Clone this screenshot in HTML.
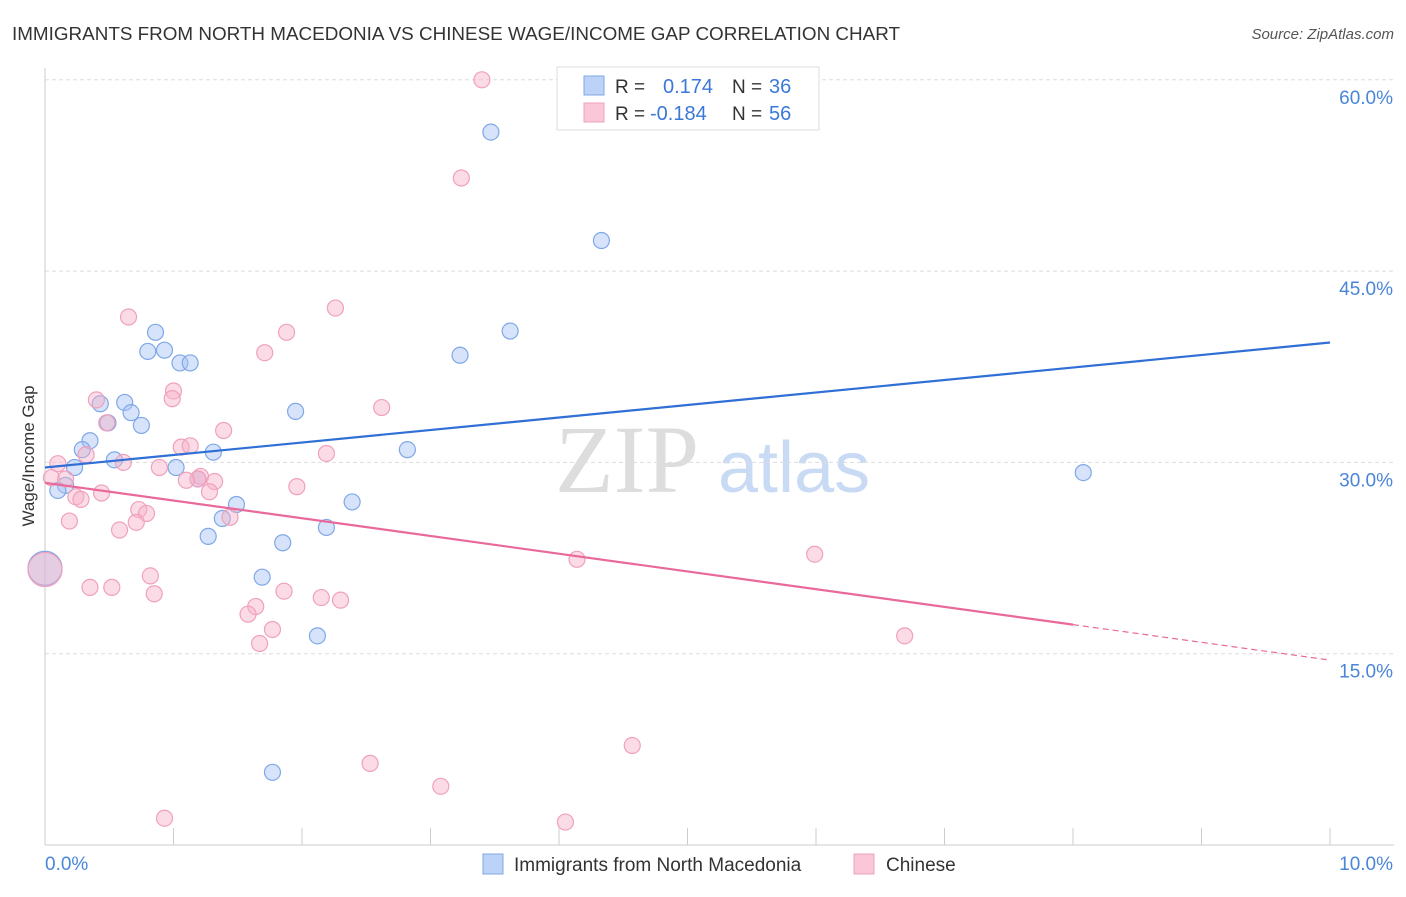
<!DOCTYPE html>
<html><head><meta charset="utf-8"><style>
body{margin:0;background:#fff;font-family:"Liberation Sans",sans-serif}
svg text{font-family:"Liberation Sans",sans-serif}
</style></head><body>
<svg id="chart" width="1406" height="892" xmlns="http://www.w3.org/2000/svg">
<text x="12" y="40" font-size="18.5" fill="#333" textLength="888" lengthAdjust="spacingAndGlyphs">IMMIGRANTS FROM NORTH MACEDONIA VS CHINESE WAGE/INCOME GAP CORRELATION CHART</text>
<text x="1394" y="39" font-size="15" fill="#555" text-anchor="end" font-style="italic">Source: ZipAtlas.com</text>
<g>
<text x="555" y="492" font-size="96" fill="#ddd" font-family="Liberation Serif" style="font-family:'Liberation Serif',serif">ZIP</text>
<text x="718" y="492" font-size="72" fill="#c9daf4">atlas</text>
</g>
<g id="grid"></g>
<g id="axes"></g>
<g id="marks"></g>
<g>
<rect x="557" y="67" width="262" height="63" fill="#fff" stroke="#ddd"/>
<rect x="584" y="76" width="20" height="19" fill="#bcd3f7" stroke="#7fa8e6"/>
<text x="615" y="93" font-size="19" fill="#333">R =</text><text x="663" y="93" font-size="20" fill="#3b78d8">0.174</text>
<text x="732" y="93" font-size="19" fill="#333">N =</text><text x="769" y="93" font-size="20" fill="#3b78d8">36</text>
<rect x="584" y="103" width="20" height="19" fill="#f9c7d7" stroke="#f0a0bd"/>
<text x="615" y="120" font-size="19" fill="#333">R =</text><text x="650" y="120" font-size="20" fill="#3b78d8">-0.184</text>
<text x="732" y="120" font-size="19" fill="#333">N =</text><text x="769" y="120" font-size="20" fill="#3b78d8">56</text>
</g>
<g>
<rect x="483" y="854" width="20" height="20" fill="#bcd3f7" stroke="#7fa8e6"/>
<text x="514" y="871" font-size="19" fill="#333">Immigrants from North Macedonia</text>
<rect x="854" y="854" width="20" height="20" fill="#f9c7d7" stroke="#f0a0bd"/>
<text x="886" y="871" font-size="19" fill="#333">Chinese</text>
</g>
<text transform="translate(34,456) rotate(-90)" font-size="17" fill="#333" text-anchor="middle">Wage/Income Gap</text>
</svg>
<script>
const yTicks=[15,30,45,60];
const yTickLabels=["15.0%","30.0%","45.0%","60.0%"];
const xTickLabels=["0.0%","10.0%"];
const blueX=[3.47,4.33,3.62,3.23,0.86,0.80,0.93,1.05,1.13,0.62,0.43,0.49,0.67,0.75,0.35,0.29,0.54,0.23,0.16,0.10,1.02,1.31,1.19,1.95,2.82,2.39,1.49,1.38,1.27,2.19,1.85,1.69,2.12,1.77,8.08,0.0];
const blueY=[55.9,47.4,40.3,38.4,40.2,38.7,38.8,37.8,37.8,34.7,34.6,33.1,33.9,32.9,31.7,31.0,30.2,29.6,28.2,27.8,29.6,30.8,28.7,34.0,31.0,26.9,26.7,25.6,24.2,24.9,23.7,21.0,16.4,5.7,29.2,21.7];
const pinkX=[3.40,3.24,2.26,0.65,1.88,1.71,1.00,0.99,0.40,0.48,1.39,2.62,1.06,1.13,0.32,0.10,0.61,0.89,1.21,1.19,1.10,1.32,1.28,1.96,2.19,0.05,0.16,0.44,0.24,0.28,0.73,0.79,1.44,0.71,0.58,0.19,4.14,5.99,0.82,0.35,0.52,0.85,1.86,2.15,2.30,1.64,1.58,1.77,1.67,6.69,4.57,2.53,3.08,0.93,4.05,0.0];
const pinkY=[60.0,52.3,42.1,41.4,40.2,38.6,35.6,35.0,34.9,33.1,32.5,34.3,31.2,31.3,30.6,29.9,30.0,29.6,28.9,28.7,28.6,28.5,27.7,28.1,30.7,28.8,28.7,27.6,27.3,27.1,26.3,26.0,25.7,25.3,24.7,25.4,22.4,22.8,21.1,20.2,20.2,19.7,19.9,19.4,19.2,18.7,18.1,16.9,15.8,16.4,7.8,6.4,4.6,2.1,1.8,21.6];
const blueTrend=[29.6,39.4];
const pinkTrend=[28.4,14.5];
const pinkSolidEnd=8.0;

const NS="http://www.w3.org/2000/svg";
const X=v=>45+v*128.5;
const Y=v=>845-v*191.3/15;
function mk(tag,attrs,parent){const e=document.createElementNS(NS,tag);for(const k in attrs)e.setAttribute(k,attrs[k]);document.getElementById(parent).appendChild(e);return e;}
yTicks.forEach((t,i)=>{
  const g=mk('line',{x1:45,x2:1394,y1:Y(t),y2:Y(t),stroke:'#ddd','stroke-dasharray':'4,3'},'grid');
  
  
  const l=mk('text',{x:1393,y:Y(t)+24,'font-size':19,fill:'#4a86d8','text-anchor':'end'},'axes');
  l.textContent=yTickLabels[i];
  
  
});
const ax=mk('line',{x1:45,x2:1394,y1:845,y2:845,stroke:'#ccc'},'axes');


const ay=mk('line',{x1:45,x2:45,y1:68,y2:845,stroke:'#ccc'},'axes');


for(let i=0;i<=10;i++){
  const t=mk('line',{x1:X(i),x2:X(i),y1:828,y2:845,stroke:'#ccc'},'axes');
  
  
}
[[0,'start',45],[10,'end',1393]].forEach((d,i)=>{
  const l=mk('text',{x:d[2],y:870,'font-size':19,fill:'#4a86d8','text-anchor':d[1]},'axes');
  l.textContent=xTickLabels[i];
  
  
});
function pts(xs,ys,fill,stroke,name){
  xs.forEach((x,i)=>{
    const big=(x===0);
    const c=mk('circle',{cx:X(x),cy:Y(ys[i]),r:big?17:8,fill:fill,stroke:stroke,'stroke-width':1.2},'marks');
    
    
  });
}
pts(blueX,blueY,'rgba(164,194,244,0.45)','#7fa8e6','macedonia-point');
pts(pinkX,pinkY,'rgba(246,178,200,0.45)','#f0a0bd','chinese-point');
const bl=mk('line',{x1:X(0),y1:Y(blueTrend[0]),x2:X(10),y2:Y(blueTrend[1]),stroke:'#2f6fd6','stroke-width':2.2},'marks');


const py=x=>pinkTrend[0]+(pinkTrend[1]-pinkTrend[0])*x/10;
const pl=mk('line',{x1:X(0),y1:Y(py(0)),x2:X(pinkSolidEnd),y2:Y(py(pinkSolidEnd)),stroke:'#e8699a','stroke-width':2.2},'marks');


const pd=mk('line',{x1:X(pinkSolidEnd),y1:Y(py(pinkSolidEnd)),x2:X(10),y2:Y(py(10)),stroke:'#e8699a','stroke-width':1.2,'stroke-dasharray':'6,4'},'marks');


</script>
</body></html>
